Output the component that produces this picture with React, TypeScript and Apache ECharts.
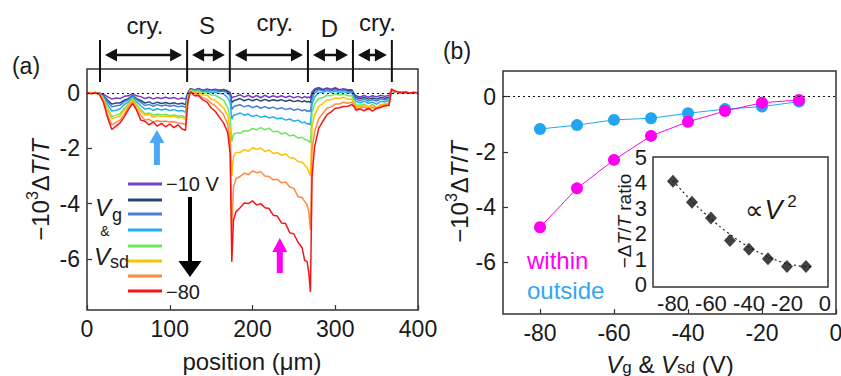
import React, { useEffect, useRef } from 'react';
import * as echarts from 'echarts';

// ---------- data: panel (a) spatial profiles (position in µm, -10^3 ΔT/T) ----------
const POS = [0, 5, 10, 15, 20, 25, 30, 35, 40, 45,
  50, 55, 60, 65, 70, 75, 80, 85, 90, 95,
  100, 105, 110, 115, 119, 122, 125, 130, 135, 140,
  145, 150, 155, 160, 165, 170, 173, 175, 177, 180,
  185, 190, 195, 200, 205, 210, 215, 220, 225, 230,
  235, 240, 245, 250, 255, 260, 263, 266, 268, 270,
  272, 275, 280, 285, 290, 295, 300, 305, 310, 315,
  320, 323, 325, 330, 335, 340, 345, 350, 355, 360,
  365, 368, 370, 375, 380, 385, 390, 395, 400];

const V10 = [0.02, 0.0, 0.01, 0.0, -0.05, -0.14, -0.22, -0.18, -0.2, -0.12,
  -0.1, -0.02, -0.1, -0.13, -0.2, -0.15, -0.21, -0.16, -0.2, -0.15,
  -0.2, -0.16, -0.22, -0.18, -0.22, 0.02, 0.16, 0.11, 0.17, 0.1,
  0.15, 0.11, 0.14, 0.1, 0.13, 0.08, 0.02, -0.18, -0.14, -0.12,
  -0.06, -0.15, -0.08, -0.16, -0.09, -0.17, -0.08, -0.16, -0.1, -0.15,
  -0.1, -0.16, -0.11, -0.17, -0.12, -0.18, -0.12, -0.17, -0.14, -0.18,
  0.05, 0.15, 0.2, 0.13, 0.18, 0.14, 0.19, 0.12, 0.16, 0.12,
  0.12, -0.04, -0.1, -0.14, -0.09, -0.15, -0.1, -0.14, -0.08, -0.12,
  -0.08, 0.12, 0.06, 0.03, 0.01, 0.02, 0.0, 0.01, 0.0];
const V20 = [0.0, 0.01, 0.0, -0.01, -0.1, -0.26, -0.4, -0.36, -0.36, -0.26,
  -0.2, -0.08, -0.2, -0.27, -0.36, -0.32, -0.39, -0.33, -0.38, -0.34,
  -0.39, -0.35, -0.4, -0.37, -0.42, -0.02, 0.15, 0.11, 0.14, 0.09,
  0.12, 0.09, 0.12, 0.08, 0.1, 0.05, -0.05, -0.35, -0.28, -0.25,
  -0.2, -0.28, -0.22, -0.28, -0.22, -0.29, -0.23, -0.29, -0.24, -0.28,
  -0.24, -0.3, -0.25, -0.31, -0.27, -0.32, -0.28, -0.33, -0.3, -0.35,
  -0.05, 0.1, 0.16, 0.11, 0.14, 0.11, 0.15, 0.1, 0.12, 0.09,
  0.08, -0.08, -0.16, -0.2, -0.16, -0.22, -0.18, -0.22, -0.16, -0.19,
  -0.15, 0.1, 0.05, 0.03, 0.01, 0.02, 0.0, 0.01, 0.0];
const V30 = [0.01, 0.0, 0.02, -0.01, -0.12, -0.32, -0.5, -0.46, -0.44, -0.32,
  -0.24, -0.1, -0.24, -0.34, -0.45, -0.41, -0.48, -0.42, -0.47, -0.43,
  -0.48, -0.44, -0.5, -0.47, -0.52, -0.05, 0.14, 0.1, 0.13, 0.08,
  0.11, 0.08, 0.1, 0.05, 0.07, 0.0, -0.1, -0.6, -0.5, -0.46,
  -0.42, -0.5, -0.45, -0.53, -0.47, -0.55, -0.49, -0.56, -0.51, -0.58,
  -0.53, -0.6, -0.55, -0.62, -0.58, -0.64, -0.6, -0.66, -0.63, -0.68,
  -0.2, 0.0, 0.12, 0.08, 0.13, 0.09, 0.12, 0.08, 0.11, 0.06,
  0.05, -0.12, -0.22, -0.27, -0.22, -0.29, -0.24, -0.29, -0.21, -0.25,
  -0.2, 0.12, 0.06, 0.03, 0.01, 0.02, 0.0, 0.01, 0.0];
const V40 = [0.0, 0.02, 0.0, -0.02, -0.15, -0.42, -0.65, -0.62, -0.57, -0.42,
  -0.32, -0.15, -0.32, -0.46, -0.58, -0.55, -0.63, -0.57, -0.61, -0.58,
  -0.63, -0.6, -0.65, -0.63, -0.7, -0.1, 0.12, 0.08, 0.1, 0.04,
  0.07, 0.02, 0.04, -0.02, -0.03, -0.17, -0.35, -0.95, -0.8, -0.78,
  -0.72, -0.8, -0.76, -0.85, -0.8, -0.88, -0.83, -0.9, -0.86, -0.93,
  -0.9, -0.98, -0.94, -1.02, -0.98, -1.08, -1.05, -1.12, -1.1, -1.15,
  -0.4, -0.15, 0.02, 0.03, 0.08, 0.03, 0.06, 0.02, 0.05, 0.0,
  0.0, -0.2, -0.3, -0.35, -0.3, -0.37, -0.33, -0.4, -0.3, -0.32,
  -0.27, 0.1, 0.06, 0.03, 0.01, 0.02, 0.0, 0.01, 0.0];
const V50 = [0.01, -0.01, 0.02, -0.02, -0.2, -0.55, -0.85, -0.8, -0.75, -0.55,
  -0.4, -0.2, -0.42, -0.6, -0.75, -0.72, -0.8, -0.76, -0.79, -0.77,
  -0.82, -0.78, -0.84, -0.82, -0.88, -0.15, 0.1, 0.06, 0.07, 0.0,
  0.02, -0.07, -0.08, -0.17, -0.26, -0.52, -0.9, -1.75, -1.5, -1.45,
  -1.45, -1.36, -1.38, -1.28, -1.33, -1.25, -1.33, -1.27, -1.4, -1.38,
  -1.48, -1.44, -1.55, -1.52, -1.63, -1.6, -1.68, -1.7, -1.75, -1.8,
  -0.7, -0.4, -0.2, -0.16, -0.08, -0.1, -0.03, -0.07, -0.04, -0.1,
  -0.1, -0.3, -0.42, -0.45, -0.4, -0.52, -0.4, -0.55, -0.42, -0.4,
  -0.35, 0.1, 0.06, 0.03, 0.0, 0.02, -0.01, 0.01, 0.0];
const V60 = [0.0, 0.02, -0.01, -0.03, -0.22, -0.62, -0.93, -0.88, -0.83, -0.62,
  -0.45, -0.25, -0.47, -0.66, -0.8, -0.77, -0.87, -0.81, -0.85, -0.83,
  -0.86, -0.84, -0.9, -0.87, -0.95, -0.2, 0.08, 0.03, 0.02, -0.07,
  -0.08, -0.22, -0.26, -0.4, -0.53, -0.82, -1.3, -3.0, -2.3, -2.15,
  -2.15, -2.05, -2.1, -1.98, -2.04, -1.99, -2.12, -2.06, -2.18, -2.16,
  -2.25, -2.2, -2.34, -2.35, -2.48, -2.5, -2.6, -2.7, -2.85, -3.0,
  -1.2, -0.8, -0.48, -0.38, -0.25, -0.24, -0.18, -0.2, -0.15, -0.22,
  -0.22, -0.38, -0.48, -0.5, -0.44, -0.5, -0.45, -0.54, -0.42, -0.43,
  -0.38, 0.12, 0.08, 0.04, 0.01, 0.03, 0.0, 0.02, 0.0];
const V70 = [0.01, -0.02, 0.02, -0.04, -0.3, -0.8, -1.15, -1.06, -0.98, -0.77,
  -0.52, -0.32, -0.57, -0.8, -0.98, -0.95, -1.05, -1.0, -1.03, -1.02,
  -1.05, -1.04, -1.08, -1.1, -1.15, -0.25, 0.05, -0.02, -0.06, -0.17,
  -0.23, -0.37, -0.46, -0.62, -0.78, -1.12, -1.8, -5.0, -3.4, -3.1,
  -3.02, -2.9, -2.95, -2.82, -2.88, -2.85, -3.0, -3.02, -3.14, -3.12,
  -3.25, -3.22, -3.4, -3.45, -3.75, -3.78, -3.92, -4.05, -4.3, -4.95,
  -2.0, -1.4, -0.93, -0.74, -0.55, -0.5, -0.4, -0.4, -0.33, -0.37,
  -0.33, -0.45, -0.55, -0.55, -0.5, -0.6, -0.52, -0.57, -0.46, -0.48,
  -0.42, 0.1, 0.08, 0.03, 0.0, 0.02, -0.01, 0.02, 0.0];
const V80 = [0.02, -0.03, 0.01, -0.05, -0.35, -0.9, -1.32, -1.2, -1.08, -0.86,
  -0.6, -0.38, -0.62, -0.98, -1.02, -1.15, -1.05, -1.2, -1.1, -1.22,
  -1.12, -1.25, -1.15, -1.3, -1.35, -0.3, 0.05, -0.1, -0.1, -0.25,
  -0.33, -0.53, -0.66, -0.88, -1.08, -1.42, -2.2, -6.1, -4.6, -4.3,
  -4.15, -3.98, -4.0, -3.9, -4.05, -4.0, -4.15, -4.18, -4.42, -4.45,
  -4.7, -4.72, -5.05, -5.1, -5.4, -5.6, -6.05, -6.1, -6.5, -7.2,
  -3.0, -1.95, -1.28, -1.02, -0.78, -0.68, -0.55, -0.53, -0.49, -0.48,
  -0.42, -0.5, -0.62, -0.58, -0.64, -0.55, -0.65, -0.55, -0.52, -0.45,
  -0.45, 0.15, 0.1, 0.05, 0.02, 0.04, 0.0, 0.03, 0.01];

const TRACE_NAMES = ['-10 V', '-20 V', '-30 V', '-40 V', '-50 V', '-60 V', '-70 V', '-80 V'];
const TRACES = [V10, V20, V30, V40, V50, V60, V70, V80];

// region boundaries (µm) and labels above panel (a)
const REGION_EDGES = [15.7, 121, 172.6, 267, 321.4, 368.4];
const REGION_LABELS = ['cry.', 'S', 'cry.', 'D', 'cry.'];
const REGION_LABEL_POS = [70, 145, 227, 293, 351];

// ---------- data: panel (b) ----------
const VOLTAGE = [-80, -70, -60, -50, -40, -30, -20, -10];
const WITHIN = [-4.73, -3.32, -2.29, -1.42, -0.91, -0.52, -0.22, -0.12];
const OUTSIDE = [-1.17, -1.03, -0.84, -0.78, -0.6, -0.45, -0.36, -0.18];
const RATIO = [4.05, 3.23, 2.62, 1.74, 1.4, 1.02, 0.72, 0.72];
const FIT_V = [-80, -75, -70, -65, -60, -55, -50, -45, -40, -35, -30, -25, -20, -15, -10, -7];
const FIT_R = [4.08, 3.66, 3.27, 2.91, 2.58, 2.26, 1.98, 1.71, 1.48, 1.28, 1.1, 0.95, 0.83, 0.76, 0.72, 0.72];

const TICKS_A_Y = [-6, -4, -2, 0];
const TICKS_B_X = [-80, -60, -40, -20, 0];
const TICKS_INSET_Y = [0, 1, 2, 3, 4, 5];

// ---------- styles ----------
const FONT = '"Liberation Sans", Arial, Helvetica, sans-serif';
const TRACE_COLORS = ['#7a3fc0', '#234b7a', '#4a7fd6', '#1eb0f0', '#6aea5a', '#ffc000', '#ff8a3d', '#f5141a'];
const MAGENTA = '#ff00f0';
const SKY = '#22a6f0';
const AXIS_C = '#333';
const TXT = '#1a1a1a';

const fmt = (v: number) => String(Math.round(v * 100) / 100);

function valueAxis(gridIndex: number, min: number, max: number, ticks: number[] | null, interval: number | null, fontSize: number, margin: number) {
  const a: any = {
    type: 'value', gridIndex, min, max, scale: false,
    axisLine: { show: false, onZero: false },
    splitLine: { show: false },
    axisTick: { show: true, inside: true, length: 5, lineStyle: { color: AXIS_C, width: 1.2 } },
    axisLabel: { show: true, fontSize, fontFamily: FONT, color: TXT, margin, formatter: fmt },
  };
  if (ticks) {
    a.axisTick.customValues = ticks;
    a.axisLabel.customValues = ticks;
  }
  if (interval) a.interval = interval;
  return a;
}

function txt(x: number, y: number, text: string, size: number, opts: any = {}) {
  return {
    type: 'text', x, y, z: 100, rotation: opts.rotation || 0, silent: true,
    style: {
      text, fill: opts.fill || TXT,
      font: `${opts.italic ? 'italic ' : ''}${size}px ${FONT}`,
      fontSize: size, fontFamily: FONT, fontStyle: opts.italic ? 'italic' : 'normal',
      align: opts.align || 'center', textAlign: opts.align || 'center',
      verticalAlign: 'middle', textVerticalAlign: 'middle',
      rich: opts.rich,
    },
  };
}

function richAxisTitle(size: number) {
  return {
    n: { fontSize: size, fontFamily: FONT, fill: TXT, color: TXT, verticalAlign: 'bottom', lineHeight: size + 4 },
    s: { fontSize: Math.round(size * 0.65), fontFamily: FONT, fill: TXT, color: TXT, verticalAlign: 'top', lineHeight: size + 4 },
    i: { fontSize: size, fontFamily: FONT, fontStyle: 'italic', fill: TXT, color: TXT, verticalAlign: 'bottom', lineHeight: size + 4 },
    b: { fontSize: Math.round(size * 0.72), fontFamily: FONT, fill: TXT, color: TXT, verticalAlign: 'bottom', lineHeight: size + 4 },
  };
}

export default function App() {
  const ref = useRef<HTMLDivElement>(null);

  useEffect(() => {
    document.body.style.margin = '0';
    const chart = echarts.init(ref.current!, null, { renderer: 'svg' });

    const traceSeries = TRACES.map((arr, k) => ({
      name: TRACE_NAMES[k],
      type: 'line', xAxisIndex: 0, yAxisIndex: 0,
      data: POS.map((p, i) => [p, arr[i]]),
      showSymbol: false, symbol: 'none',
      lineStyle: { width: 1.5, color: TRACE_COLORS[k] },
      itemStyle: { color: TRACE_COLORS[k] },
      z: 2 + k * 0.01,
      silent: true,
    }));

    const option: any = {
      animation: false,
      backgroundColor: '#fff',
      textStyle: { fontFamily: FONT },
      grid: [
        { left: 87, top: 69, width: 331, height: 241, show: true, borderColor: AXIS_C, borderWidth: 1.5, backgroundColor: 'transparent', outerBoundsMode: 'none', containLabel: false },
        { left: 503, top: 71, width: 333, height: 243, show: true, borderColor: AXIS_C, borderWidth: 1.5, backgroundColor: 'transparent', outerBoundsMode: 'none', containLabel: false },
        { left: 653, top: 157, width: 175, height: 130, show: true, borderColor: AXIS_C, borderWidth: 1.5, backgroundColor: '#fff', outerBoundsMode: 'none', containLabel: false, z: 5 },
      ],
      xAxis: [
        valueAxis(0, 0, 400, null, 100, 23, 7),
        valueAxis(1, -90, 0, TICKS_B_X, null, 23, 7),
        valueAxis(2, -90.5, 1.6, TICKS_B_X, null, 22, 5),
      ],
      yAxis: [
        valueAxis(0, -7.85, 0.87, TICKS_A_Y, null, 23, 7),
        valueAxis(1, -7.87, 0.93, TICKS_A_Y, null, 23, 7),
        valueAxis(2, -0.08, 5, TICKS_INSET_Y, null, 22, 6),
      ],
      series: [
        ...traceSeries,
        {
          type: 'line', xAxisIndex: 0, yAxisIndex: 0, data: [], silent: true, z: 10,
          markLine: { silent: true, symbol: 'none', animation: false, label: { show: false },
            lineStyle: { type: [2, 3], color: '#111', width: 1.2 }, data: [{ yAxis: 0 }] },
        },
        {
          type: 'line', xAxisIndex: 1, yAxisIndex: 1, data: [], silent: true, z: 1,
          markLine: { silent: true, symbol: 'none', animation: false, label: { show: false },
            lineStyle: { type: [2, 3], color: '#111', width: 1.2 }, data: [{ yAxis: 0 }] },
        },
        {
          name: 'outside', type: 'line', xAxisIndex: 1, yAxisIndex: 1,
          data: VOLTAGE.map((v, i) => [v, OUTSIDE[i]]),
          symbol: 'circle', symbolSize: 12, showSymbol: true,
          lineStyle: { width: 1, color: SKY }, itemStyle: { color: SKY }, z: 3,
        },
        {
          name: 'within', type: 'line', xAxisIndex: 1, yAxisIndex: 1,
          data: VOLTAGE.map((v, i) => [v, WITHIN[i]]),
          symbol: 'circle', symbolSize: 12, showSymbol: true,
          lineStyle: { width: 1, color: MAGENTA }, itemStyle: { color: MAGENTA }, z: 4,
        },
        {
          name: 'fit', type: 'line', xAxisIndex: 2, yAxisIndex: 2,
          data: FIT_V.map((v, i) => [v, FIT_R[i]]),
          showSymbol: false, symbol: 'none', smooth: 0.3,
          lineStyle: { width: 1.2, color: '#222', type: [2, 3] }, z: 6,
        },
        {
          name: 'ratio', type: 'scatter', xAxisIndex: 2, yAxisIndex: 2,
          data: VOLTAGE.map((v, i) => [v, RATIO[i]]),
          symbol: 'diamond', symbolSize: [12, 13],
          itemStyle: { color: '#111' }, z: 7,
        },
      ],
    };
    chart.setOption(option);

    const px = (v: number) => chart.convertToPixel({ xAxisIndex: 0 } as any, v) as number;
    const g: any[] = [];

    // panel letters
    g.push(txt(26, 66, '(a)', 23));
    g.push(txt(457, 51, '(b)', 23));

    // region brackets
    REGION_EDGES.forEach((e) => {
      const x = px(e);
      g.push({ type: 'line', z: 100, silent: true, shape: { x1: x, y1: 40, x2: x, y2: 82 }, style: { stroke: '#111', lineWidth: 2 } });
    });
    for (let i = 0; i < REGION_EDGES.length - 1; i++) {
      const x1 = px(REGION_EDGES[i]) + 5;
      const x2 = px(REGION_EDGES[i + 1]) - 5;
      const y = 55;
      g.push({ type: 'line', z: 100, silent: true, shape: { x1: x1 + 8, y1: y, x2: x2 - 8, y2: y }, style: { stroke: '#111', lineWidth: 2.5 } });
      g.push({ type: 'polygon', z: 100, silent: true, shape: { points: [[x1, y], [x1 + 12, y - 6.5], [x1 + 12, y + 6.5]] }, style: { fill: '#111' } });
      g.push({ type: 'polygon', z: 100, silent: true, shape: { points: [[x2, y], [x2 - 12, y - 6.5], [x2 - 12, y + 6.5]] }, style: { fill: '#111' } });
    }
    const labelY = [25, 25, 22, 28, 22];
    REGION_LABELS.forEach((l, i) => g.push(txt(px(REGION_LABEL_POS[i]), labelY[i], l, 24)));

    // legend in panel (a)
    const legY = [184, 200, 214, 230, 246, 261, 276, 291];
    TRACE_COLORS.forEach((c, i) => {
      g.push({ type: 'line', z: 100, silent: true, shape: { x1: 128, y1: legY[i], x2: 162, y2: legY[i] }, style: { stroke: c, lineWidth: 3 } });
    });
    g.push(txt(166, 184, '\u221210 V', 20, { align: 'left' }));
    g.push(txt(166, 292, '\u221280', 20, { align: 'left' }));
    // black arrow
    g.push({ type: 'polygon', z: 100, silent: true, shape: { points: [[188, 197], [192, 197], [192, 261], [201.5, 261], [190, 277], [178.5, 261], [188, 261]] }, style: { fill: '#000' } });
    // Vg & Vsd
    g.push(txt(95, 207, 'V', 24, { align: 'left', italic: true }));
    g.push(txt(112, 215, 'g', 18, { align: 'left' }));
    g.push(txt(105, 231, '&', 14));
    g.push(txt(94, 256, 'V', 24, { align: 'left', italic: true }));
    g.push(txt(110, 262, 'sd', 18, { align: 'left' }));

    // blue arrow (outside) and magenta arrow (within)
    const bx = px(84.5);
    g.push({ type: 'polygon', z: 100, silent: true, shape: { points: [[bx, 130], [bx + 7.5, 143], [bx + 3, 143], [bx + 3, 165], [bx - 3, 165], [bx - 3, 143], [bx - 7.5, 143]] }, style: { fill: '#4aa8f5' } });
    const mx = px(233);
    g.push({ type: 'polygon', z: 100, silent: true, shape: { points: [[mx, 238], [mx + 7.5, 252], [mx + 3, 252], [mx + 3, 273], [mx - 3, 273], [mx - 3, 252], [mx - 7.5, 252]] }, style: { fill: MAGENTA } });

    // axis titles
    const rt = richAxisTitle(24);
    const yTitle = '{n|\u221210}{s|3}{n|\u0394}{i|T}{n|/}{i|T}';
    g.push(txt(38, 190, yTitle, 24, { rotation: Math.PI / 2, rich: rt }));
    g.push(txt(457, 192, yTitle, 24, { rotation: Math.PI / 2, rich: rt }));
    g.push(txt(252, 361, 'position (\u03bcm)', 24));
    g.push(txt(670, 362, '{i|V}{b|g}{n| & }{i|V}{b|sd}{n| (V)}', 24, { rich: rt }));

    // within / outside labels
    g.push(txt(527, 260, 'within', 24, { align: 'left', fill: MAGENTA }));
    g.push(txt(527, 290, 'outside', 24, { align: 'left', fill: '#35a6f2' }));

    // inset texts
    const rti = richAxisTitle(19);
    g.push(txt(622, 221, '{n|\u2212\u0394}{i|T}{n|/}{i|T}{n| ratio}', 19, { rotation: Math.PI / 2, rich: rti }));
    g.push(txt(771, 208, '{n|\u221d}{i|V}{s| 2}', 26, { rich: {
      n: { fontSize: 26, fontFamily: FONT, fill: TXT, verticalAlign: 'bottom', lineHeight: 30 },
      i: { fontSize: 27, fontFamily: FONT, fontStyle: 'italic', fill: TXT, verticalAlign: 'bottom', lineHeight: 30 },
      s: { fontSize: 17, fontFamily: FONT, fill: TXT, verticalAlign: 'top', lineHeight: 30 },
    } }));

    chart.setOption({ graphic: { elements: g } });

    return () => chart.dispose();
  }, []);

  return <div ref={ref} style={{ position: 'fixed', left: 0, top: 0, width: 841, height: 376 }} />;
}
